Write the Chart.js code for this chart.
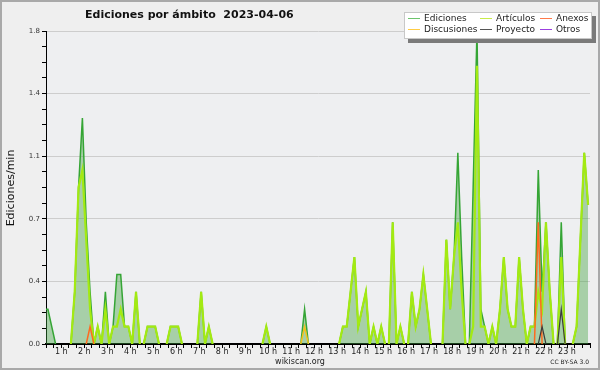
<!DOCTYPE html>
<html lang="es">
<head>
<meta charset="utf-8">
<title>Ediciones por ámbito 2023-04-06</title>
<script src="https://cdn.jsdelivr.net/npm/chart.js@4.4.0/dist/chart.umd.min.js"></script>
<style>
  html, body { margin: 0; padding: 0; background: #efefef; }
  #chart { display: block; }
</style>
</head>
<body>
<canvas id="chart" width="600" height="370"></canvas>
<script>
// Ediciones por minuto, en tramos de 10 minutos (0:00 ... 23:50)
const ediciones = [
  0.2, 0.2, 0.2, 0.1, 0, 0, 0, 0, 0, 0.3, 0.9, 1.3,
  0.7, 0.3, 0, 0.1, 0, 0.3, 0, 0.1, 0.4, 0.4, 0.1, 0.1,
  0, 0.3, 0, 0, 0.1, 0.1, 0.1, 0, 0, 0, 0.1, 0.1,
  0.1, 0, 0, 0, 0, 0, 0.3, 0, 0.1, 0, 0, 0,
  0, 0, 0, 0, 0, 0, 0, 0, 0, 0, 0, 0.1,
  0, 0, 0, 0, 0, 0, 0, 0, 0, 0.2, 0, 0,
  0, 0, 0, 0, 0, 0, 0, 0.1, 0.1, 0.3, 0.5, 0.1,
  0.2, 0.3, 0, 0.1, 0, 0.1, 0, 0, 0.7, 0, 0.1, 0,
  0, 0.3, 0.1, 0.2, 0.4, 0.2, 0, 0, 0, 0, 0.6, 0.2,
  0.5, 1.1, 0.5, 0, 0, 0.9, 1.8, 0.2, 0.1, 0, 0.1, 0,
  0.2, 0.5, 0.2, 0.1, 0.1, 0.5, 0.2, 0, 0.1, 0.1, 1.0, 0.3,
  0.7, 0.3, 0, 0, 0.7, 0, 0, 0, 0.1, 0.6, 1.1, 0.8
];
const articulos = [
  0, 0, 0, 0, 0, 0, 0, 0, 0, 0.3, 0.9, 1.0,
  0.6, 0.2, 0, 0.1, 0, 0.2, 0, 0.1, 0.1, 0.2, 0.1, 0.1,
  0, 0.3, 0, 0, 0.1, 0.1, 0.1, 0, 0, 0, 0.1, 0.1,
  0.1, 0, 0, 0, 0, 0, 0.3, 0, 0.1, 0, 0, 0,
  0, 0, 0, 0, 0, 0, 0, 0, 0, 0, 0, 0.1,
  0, 0, 0, 0, 0, 0, 0, 0, 0, 0, 0, 0,
  0, 0, 0, 0, 0, 0, 0, 0.1, 0.1, 0.3, 0.5, 0.1,
  0.2, 0.3, 0, 0.1, 0, 0.1, 0, 0, 0.7, 0, 0.1, 0,
  0, 0.3, 0.1, 0.2, 0.4, 0.2, 0, 0, 0, 0, 0.6, 0.2,
  0.5, 0.7, 0.3, 0, 0, 0.1, 1.6, 0.1, 0.1, 0, 0.1, 0,
  0.2, 0.5, 0.2, 0.1, 0.1, 0.5, 0.2, 0, 0.1, 0.1, 0.3, 0.2,
  0.7, 0.3, 0, 0, 0.5, 0, 0, 0, 0.1, 0.6, 1.1, 0.8
];
const anexos = [
  0, 0, 0, 0, 0, 0, 0, 0, 0, 0, 0, 0,
  0, 0.1, 0, 0, 0, 0, 0, 0, 0, 0, 0, 0,
  0, 0, 0, 0, 0, 0, 0, 0, 0, 0, 0, 0,
  0, 0, 0, 0, 0, 0, 0, 0, 0, 0, 0, 0,
  0, 0, 0, 0, 0, 0, 0, 0, 0, 0, 0, 0,
  0, 0, 0, 0, 0, 0, 0, 0, 0, 0, 0, 0,
  0, 0, 0, 0, 0, 0, 0, 0, 0, 0, 0, 0,
  0, 0, 0, 0, 0, 0, 0, 0, 0, 0, 0, 0,
  0, 0, 0, 0, 0, 0, 0, 0, 0, 0, 0, 0,
  0, 0, 0, 0, 0, 0, 0, 0, 0, 0, 0, 0,
  0, 0, 0, 0, 0, 0, 0, 0, 0, 0, 0.7, 0,
  0, 0, 0, 0, 0, 0, 0, 0, 0, 0, 0, 0
];
const discusiones = [
  0, 0, 0, 0, 0, 0, 0, 0, 0, 0, 0, 0,
  0, 0, 0, 0, 0, 0, 0, 0, 0, 0, 0, 0,
  0, 0, 0, 0, 0, 0, 0, 0, 0, 0, 0, 0,
  0, 0, 0, 0, 0, 0, 0, 0, 0, 0, 0, 0,
  0, 0, 0, 0, 0, 0, 0, 0, 0, 0, 0, 0,
  0, 0, 0, 0, 0, 0, 0, 0, 0, 0.1, 0, 0,
  0, 0, 0, 0, 0, 0, 0, 0, 0, 0, 0, 0,
  0, 0, 0, 0, 0, 0, 0, 0, 0, 0, 0, 0,
  0, 0, 0, 0, 0, 0, 0, 0, 0, 0, 0, 0,
  0, 0, 0, 0, 0, 0, 0, 0, 0, 0, 0, 0,
  0, 0, 0, 0, 0, 0, 0, 0, 0, 0, 0, 0,
  0, 0, 0, 0, 0, 0, 0, 0, 0, 0, 0, 0
];
const proyecto = [
  0, 0, 0, 0, 0, 0, 0, 0, 0, 0, 0, 0,
  0, 0, 0, 0, 0, 0, 0, 0, 0, 0, 0, 0,
  0, 0, 0, 0, 0, 0, 0, 0, 0, 0, 0, 0,
  0, 0, 0, 0, 0, 0, 0, 0, 0, 0, 0, 0,
  0, 0, 0, 0, 0, 0, 0, 0, 0, 0, 0, 0,
  0, 0, 0, 0, 0, 0, 0, 0, 0, 0, 0, 0,
  0, 0, 0, 0, 0, 0, 0, 0, 0, 0, 0, 0,
  0, 0, 0, 0, 0, 0, 0, 0, 0, 0, 0, 0,
  0, 0, 0, 0, 0, 0, 0, 0, 0, 0, 0, 0,
  0, 0, 0, 0, 0, 0, 0, 0, 0, 0, 0, 0,
  0, 0, 0, 0, 0, 0, 0, 0, 0, 0, 0, 0.1,
  0, 0, 0, 0, 0.2, 0, 0, 0, 0, 0, 0, 0
];
const otros = [
  0, 0, 0, 0, 0, 0, 0, 0, 0, 0, 0, 0,
  0, 0, 0, 0, 0, 0, 0, 0, 0, 0, 0, 0,
  0, 0, 0, 0, 0, 0, 0, 0, 0, 0, 0, 0,
  0, 0, 0, 0, 0, 0, 0, 0, 0, 0, 0, 0,
  0, 0, 0, 0, 0, 0, 0, 0, 0, 0, 0, 0,
  0, 0, 0, 0, 0, 0, 0, 0, 0, 0, 0, 0,
  0, 0, 0, 0, 0, 0, 0, 0, 0, 0, 0, 0,
  0, 0, 0, 0, 0, 0, 0, 0, 0, 0, 0, 0,
  0, 0, 0, 0, 0, 0, 0, 0, 0, 0, 0, 0,
  0, 0, 0, 0, 0, 0, 0, 0, 0, 0, 0, 0,
  0, 0, 0, 0, 0, 0, 0, 0, 0, 0, 0, 0,
  0, 0, 0, 0, 0, 0, 0, 0, 0, 0, 0, 0
];

const hourLabels = ['', '1 h', '2 h', '3 h', '4 h', '5 h', '6 h', '7 h', '8 h', '9 h', '10 h', '11 h',
  '12 h', '13 h', '14 h', '15 h', '16 h', '17 h', '18 h', '19 h', '20 h', '21 h', '22 h', '23 h', ''];
const seriesNames = ['Ediciones', 'Artículos', 'Anexos', 'Discusiones', 'Proyecto', 'Otros'];
const titleText = 'Ediciones por ámbito  2023-04-06';
const yTitle = 'Ediciones/min';
const xStart = 20;    // el eje empieza a las 0:20
const yMax = 1.8;
const yStep = 0.09;   // 4 subdivisiones por etiqueta

// puntos en el centro de cada tramo de 10 min (eje x en minutos)
function toPoints(values) {
  return values.map((v, i) => ({ x: i * 10 + 5, y: v }));
}

// no pintar la línea cuando va pegada al eje
const hideFlat = {
  borderColor: ctx => (ctx.p0.parsed.y === 0 && ctx.p1.parsed.y === 0) ? 'rgba(0,0,0,0)' : undefined
};

function isMajor(value) {
  return Math.round(value / yStep) % 4 === 0;
}

const decorations = {
  id: 'decorations',
  beforeDraw(chart) {
    const { ctx, chartArea: a } = chart;
    ctx.save();
    ctx.fillStyle = '#efefef';
    ctx.fillRect(0, 0, chart.width, chart.height);
    ctx.fillStyle = '#eeeff1';
    ctx.fillRect(a.left, a.top, a.right - a.left, a.bottom - a.top);
    ctx.restore();
  },
  afterDraw(chart) {
    const ctx = chart.ctx;
    ctx.save();

    // marco
    ctx.strokeStyle = '#a9a9a9';
    ctx.lineWidth = 2;
    ctx.strokeRect(1, 1, chart.width - 2, chart.height - 2);

    // título
    ctx.fillStyle = '#111';
    ctx.font = 'bold 11px "DejaVu Sans"';
    ctx.textAlign = 'left';
    ctx.textBaseline = 'alphabetic';
    ctx.fillText(titleText, 85, 18);

    // título del eje y
    ctx.save();
    ctx.translate(11, 188);
    ctx.rotate(-Math.PI / 2);
    ctx.font = '11px "DejaVu Sans"';
    ctx.textAlign = 'center';
    ctx.textBaseline = 'middle';
    ctx.fillStyle = '#111';
    ctx.fillText(yTitle, 0, 0);
    ctx.restore();

    // pie
    ctx.font = '8px "DejaVu Sans"';
    ctx.textAlign = 'center';
    ctx.fillStyle = '#222';
    ctx.fillText('wikiscan.org', 300, 364);
    ctx.font = '6px "DejaVu Sans"';
    ctx.textAlign = 'right';
    ctx.fillText('CC BY-SA 3.0', 589, 364);

    // leyenda
    const bx = 404, by = 12, bw = 188, bh = 27;
    ctx.fillStyle = '#7a7a7a';
    ctx.fillRect(bx + 4, by + 4, bw, bh);
    ctx.fillStyle = '#ffffff';
    ctx.fillRect(bx, by, bw, bh);
    ctx.strokeStyle = '#c8c8c8';
    ctx.lineWidth = 1;
    ctx.strokeRect(bx + 0.5, by + 0.5, bw - 1, bh - 1);

    const colX = [408, 480, 540];
    const rowY = [18.5, 29.5];
    ctx.font = '9px "DejaVu Sans"';
    ctx.textAlign = 'left';
    ctx.textBaseline = 'middle';
    chart.data.datasets.forEach((ds, i) => {
      const x = colX[i % 3], y = rowY[Math.floor(i / 3)];
      ctx.strokeStyle = ds.legendColor;
      ctx.lineWidth = 1;
      ctx.beginPath();
      ctx.moveTo(x, y);
      ctx.lineTo(x + 12, y);
      ctx.stroke();
      ctx.fillStyle = '#222';
      ctx.fillText(ds.label, x + 16, y + 0.5);
    });

    ctx.restore();
  }
};

new Chart(document.getElementById('chart'), {
  type: 'line',
  data: {
    datasets: [
      {
        label: seriesNames[0],
        data: toPoints(ediciones),
        borderColor: '#35a535',
        legendColor: '#6cc46c',
        borderWidth: 1.5,
        fill: 'origin',
        backgroundColor: 'rgba(60, 160, 60, 0.4)',
        segment: hideFlat,
        order: 6
      },
      {
        label: seriesNames[1],
        data: toPoints(articulos),
        borderColor: '#a3ea12',
        legendColor: '#c8ec4a',
        borderWidth: 2.2,
        fill: false,
        segment: hideFlat,
        order: 5
      },
      {
        label: seriesNames[2],
        data: toPoints(anexos),
        borderColor: '#ff6a1f',
        legendColor: '#ff7a4a',
        borderWidth: 1.5,
        fill: false,
        segment: hideFlat,
        order: 1
      },
      {
        label: seriesNames[3],
        data: toPoints(discusiones),
        borderColor: '#f4c21a',
        legendColor: '#ffcc44',
        borderWidth: 1.5,
        fill: false,
        segment: hideFlat,
        order: 2
      },
      {
        label: seriesNames[4],
        data: toPoints(proyecto),
        borderColor: '#3c3c3c',
        legendColor: '#555555',
        borderWidth: 1.2,
        fill: false,
        segment: hideFlat,
        order: 0
      },
      {
        label: seriesNames[5],
        data: toPoints(otros),
        borderColor: '#9b40e0',
        legendColor: '#9b40e0',
        borderWidth: 1.2,
        fill: false,
        segment: hideFlat,
        order: 3
      }
    ]
  },
  options: {
    responsive: false,
    animation: false,
    events: [],
    elements: {
      point: { radius: 0 },
      line: { tension: 0 }
    },
    layout: {
      padding: { left: 0, right: 10, top: 31, bottom: 0 }
    },
    plugins: {
      legend: { display: false },
      title: { display: false },
      tooltip: { enabled: false }
    },
    scales: {
      x: {
        type: 'linear',
        min: xStart,
        max: 1440,
        z: 1,
        afterFit: scale => { scale.height = 26; },
        border: { color: '#000', width: 2 },
        grid: {
          drawOnChartArea: false,
          color: '#000',
          tickLength: 4
        },
        ticks: {
          stepSize: 20,
          autoSkip: false,
          maxRotation: 0,
          padding: -1,
          color: '#222',
          font: { family: 'DejaVu Sans', size: 8 },
          callback: value => (value % 60 === 0 ? hourLabels[value / 60] : '')
        }
      },
      y: {
        min: 0,
        max: yMax,
        afterFit: scale => { scale.width = 46; },
        border: { color: '#000', width: 1 },
        grid: {
          color: ctx => (ctx.tick && isMajor(ctx.tick.value) ? '#cdcdcd' : 'rgba(0,0,0,0)'),
          tickColor: '#000',
          tickLength: 4
        },
        ticks: {
          stepSize: yStep,
          autoSkip: false,
          padding: 2,
          color: '#333',
          font: { family: 'DejaVu Sans', size: 7 },
          callback: value => (isMajor(value) ? value.toFixed(1) : '')
        }
      }
    }
  },
  plugins: [decorations]
});
</script>
